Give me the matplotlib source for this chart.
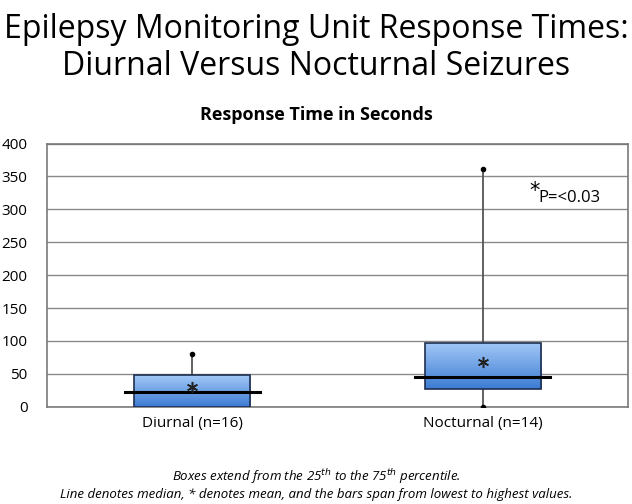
import matplotlib
matplotlib.use("Agg")
import matplotlib.pyplot as plt
import numpy as np
from matplotlib.patches import Rectangle
from matplotlib.colors import LinearSegmentedColormap

categories = ["Diurnal (n=16)", "Nocturnal (n=14)"]
q1 = [0, 27]
q3 = [48, 97]
medians = [23, 45.5]
means = [30, 68]
mins = [0, 0]
maxs = [80, 361]
yticks = [0, 50, 100, 150, 200, 250, 300, 350, 400]

plt.rcParams['font.family'] = ['Open Sans', 'DejaVu Sans']

fig = plt.figure(figsize=(6.32, 5.04), dpi=100)
ax = fig.add_axes([47/632, 1-406.7/504, 581/632, (406.7-143.5)/504])

positions = [0.5, 1.5]
bw = 0.4
mw = 0.465
grad = np.linspace(0, 1, 256).reshape(-1, 1)
cmap = LinearSegmentedColormap.from_list("g", ["#3c7bd3", "#a3c9f7"])

for i, x in enumerate(positions):
    ax.plot([x, x], [mins[i], q1[i]], color="#555555", lw=1.3, zorder=2)
    ax.plot([x, x], [q3[i], maxs[i]], color="#555555", lw=1.3, zorder=2)
    ax.plot([x], [maxs[i]], 'o', color="black", ms=3, zorder=5)
    if mins[i] < q1[i]:
        ax.plot([x], [mins[i]], 'o', color="black", ms=3, zorder=5)
    im = ax.imshow(grad, extent=[x-bw/2, x+bw/2, q1[i], q3[i]], origin='lower',
                   cmap=cmap, aspect='auto', zorder=3)
    rect = Rectangle((x-bw/2, q1[i]), bw, q3[i]-q1[i], facecolor='none',
                     edgecolor='#1f2f4f', lw=1.2, zorder=4)
    ax.add_patch(rect)
    im.set_clip_path(rect)
    ax.plot([x-mw/2, x+mw/2], [medians[i], medians[i]], color="black", lw=2.2, zorder=5)
    ax.plot([x], [means[i]], marker=(6, 2, 0), color="#222222", ms=8, mew=1.1,
            linestyle='none', zorder=6)

ax.set_xlim(0, 2)
ax.set_ylim(0, 400)
ax.set_yticks(yticks)
ax.set_yticklabels([str(t) for t in yticks], fontsize=11)
ax.set_xticks(positions)
ax.set_xticklabels(categories, fontsize=11)
ax.tick_params(axis='x', length=0, pad=7)
ax.tick_params(axis='y', length=0, pad=14)
ax.grid(axis='y', color="#8a8a8a", lw=1)
ax.set_axisbelow(True)
for s in ax.spines.values():
    s.set_color("#7a7a7a")
    s.set_linewidth(1.2)

fig.text(529/632, 1-191/504, "*", fontsize=15, ha='left', va='center',
         family='DejaVu Sans')
fig.text(538/632, 1-198/504, "P=<0.03", fontsize=12, ha='left', va='center')

fig.text(0.5, 1-48/504, "Epilepsy Monitoring Unit Response Times:\nDiurnal Versus Nocturnal Seizures",
         ha='center', va='center', fontsize=23, linespacing=1.15, color='black')
fig.text(0.5, 1-115/504, "Response Time in Seconds", ha='center', va='center',
         fontsize=13, weight='bold')
fig.text(0.5, 1-484/504,
         "Boxes extend from the 25$^{th}$ to the 75$^{th}$ percentile.\n"
         "Line denotes median, * denotes mean, and the bars span from lowest to highest values.",
         ha='center', va='center', multialignment='center', fontsize=9.5,
         style='italic', linespacing=1.2)

fig.savefig("out.png", dpi=100)
